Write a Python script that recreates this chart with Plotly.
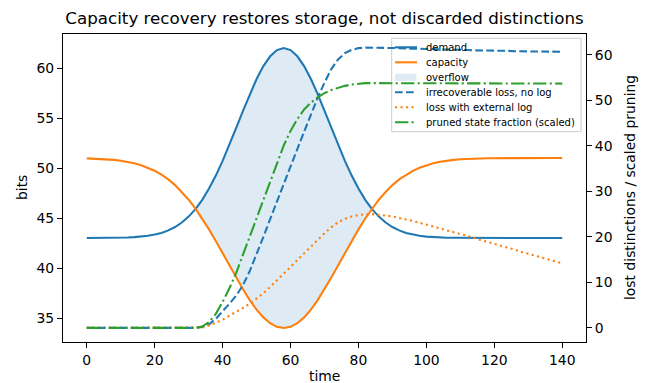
import plotly.graph_objects as go

# ---- data ----
time = list(range(0, 141, 2))

demand = [43.00, 43.00, 43.01, 43.01, 43.02, 43.03, 43.05, 43.09, 43.14, 43.22,
          43.34, 43.51, 43.76, 44.10, 44.55, 45.14, 45.89, 46.82, 47.94, 49.24,
          50.71, 52.31, 54.01, 55.72, 57.38, 58.90, 60.19, 61.17, 61.79, 62.00,
          61.79, 61.17, 60.19, 58.90, 57.38, 55.72, 54.01, 52.31, 50.71, 49.24,
          47.94, 46.82, 45.89, 45.14, 44.55, 44.10, 43.76, 43.51, 43.34, 43.22,
          43.14, 43.09, 43.05, 43.03, 43.02, 43.01, 43.01, 43.00, 43.00, 43.00,
          43.00, 43.00, 43.00, 43.00, 43.00, 43.00, 43.00, 43.00, 43.00, 43.00,
          43.00]

capacity = [50.96, 50.94, 50.91, 50.87, 50.81, 50.73, 50.62, 50.47, 50.28, 50.03,
            49.72, 49.33, 48.86, 48.29, 47.61, 46.83, 45.94, 44.95, 43.86, 42.70,
            41.49, 40.26, 39.04, 37.87, 36.79, 35.84, 35.06, 34.48, 34.12, 34.00,
            34.12, 34.48, 35.06, 35.84, 36.79, 37.87, 39.04, 40.26, 41.49, 42.70,
            43.86, 44.95, 45.94, 46.83, 47.61, 48.29, 48.86, 49.33, 49.72, 50.03,
            50.28, 50.47, 50.62, 50.73, 50.81, 50.87, 50.91, 50.94, 50.96, 50.97,
            50.98, 50.99, 50.99, 50.99, 51.00, 51.00, 51.00, 51.00, 51.00, 51.00,
            51.00]

loss_no_log = [0, 0, 0, 0, 0, 0, 0, 0, 0, 0,
               0, 0, 0, 0, 0, 0, 0, 0.2, 0.8, 2.0,
               3.6, 5.3, 7.1, 9.4, 12.5, 16.1, 20.0, 23.9, 27.8, 31.8,
               35.8, 39.3, 43.1, 46.9, 50.6, 53.9, 56.9, 59.0, 60.4, 61.1,
               61.5, 61.6, 61.6, 61.6, 61.5, 61.5, 61.5, 61.4, 61.4, 61.3,
               61.3, 61.3, 61.2, 61.2, 61.1, 61.1, 61.1, 61.0, 61.0, 61.0,
               60.9, 60.9, 60.9, 60.8, 60.8, 60.8, 60.8, 60.7, 60.7, 60.7,
               60.7]

loss_ext_log = [0, 0, 0, 0, 0, 0, 0, 0, 0, 0,
                0, 0, 0, 0, 0, 0, 0, 0.1, 0.5, 1.1,
                1.8, 2.7, 3.5, 4.4, 5.3, 6.4, 7.6, 9.0, 10.4, 11.9,
                13.4, 14.9, 16.4, 17.9, 19.4, 20.8, 22.1, 23.2, 24.0, 24.5,
                24.8, 25.0, 25.0, 24.9, 24.7, 24.5, 24.2, 23.9, 23.5, 23.1,
                22.7, 22.3, 21.9, 21.5, 21.1, 20.6, 20.2, 19.8, 19.3, 18.9,
                18.5, 18.0, 17.6, 17.2, 16.7, 16.3, 15.9, 15.4, 15.0, 14.6,
                14.2]

pruned = [0, 0, 0, 0, 0, 0, 0, 0, 0, 0,
          0, 0, 0, 0, 0, 0, 0, 0.3, 1.3, 3.1,
          5.7, 8.7, 12.1, 16.1, 20.1, 24.2, 28.4, 32.3, 36.3, 40.1,
          43.3, 45.9, 48.0, 49.5, 50.7, 51.6, 52.3, 52.8, 53.2, 53.5,
          53.7, 53.8, 53.8, 53.8, 53.8, 53.8, 53.8, 53.8, 53.8, 53.8,
          53.8, 53.8, 53.8, 53.8, 53.8, 53.7, 53.7, 53.7, 53.7, 53.7,
          53.7, 53.7, 53.7, 53.7, 53.7, 53.7, 53.7, 53.7, 53.7, 53.7,
          53.7]

x_ticks = [0, 20, 40, 60, 80, 100, 120, 140]
left_ticks = [35, 40, 45, 50, 55, 60]
right_ticks = [0, 10, 20, 30, 40, 50, 60]

series_labels = ["demand", "capacity", "overflow", "irrecoverable loss, no log",
                 "loss with external log", "pruned state fraction (scaled)"]

# ---- style ----
C0, C1, C2 = "#1f77b4", "#ff7f0e", "#2ca02c"
FILL = "rgba(31,119,180,0.15)"
FONT = "DejaVu Sans"
LW = 2.08
DASH = "7.7px,3.3px"
DOT = "2.1px,3.4px"
DASHDOT = "13.3px,3.3px,2.1px,3.3px"

W, H = 648, 383
ML, MR, MT, MB = 63, 62, 34, 41
PW, PH = W - ML - MR, H - MT - MB


def px_x(p):
    return (p - ML) / PW


def px_y(p):
    return (MT + PH - p) / PH


upper = [max(d, c) for d, c in zip(demand, capacity)]

fig = go.Figure()

# overflow fill (drawn first so it lies beneath the lines)
fig.add_trace(go.Scatter(x=time, y=capacity, mode="lines", line=dict(width=0, color=C1),
                         showlegend=False, hoverinfo="skip"))
fig.add_trace(go.Scatter(x=time, y=upper, mode="none", fill="tonexty",
                         fillcolor=FILL, name=series_labels[2], showlegend=False))

fig.add_trace(go.Scatter(x=time, y=demand, mode="lines", line=dict(color=C0, width=LW),
                         name=series_labels[0], showlegend=False))
fig.add_trace(go.Scatter(x=time, y=capacity, mode="lines", line=dict(color=C1, width=LW),
                         name=series_labels[1], showlegend=False))

fig.add_trace(go.Scatter(x=time, y=loss_no_log, mode="lines", yaxis="y2",
                         line=dict(color=C0, width=LW, dash=DASH),
                         name=series_labels[3], showlegend=False))
fig.add_trace(go.Scatter(x=time, y=loss_ext_log, mode="lines", yaxis="y2",
                         line=dict(color=C1, width=LW, dash=DOT),
                         name=series_labels[4], showlegend=False))
fig.add_trace(go.Scatter(x=time, y=pruned, mode="lines", yaxis="y2",
                         line=dict(color=C2, width=LW, dash=DASHDOT),
                         name=series_labels[5], showlegend=False))

# ---- legend (drawn beneath the right-axis lines, as in the reference) ----
shapes = [dict(type="rect", xref="paper", yref="paper", layer="below",
               x0=px_x(391.7), x1=px_x(581), y0=px_y(131.7), y1=px_y(38.3),
               fillcolor="rgba(255,255,255,0.8)", line=dict(color="#cccccc", width=1))]
legend_styles = [("line", C0, "solid"), ("line", C1, "solid"), ("patch", FILL, None),
                 ("line", C0, DASH), ("line", C1, DOT), ("line", C2, DASHDOT)]
annotations = []
row0, row_gap = 47.3, 15.0
for i, (label, (kind, col, dash)) in enumerate(zip(series_labels, legend_styles)):
    yc = row0 + i * row_gap
    if kind == "line":
        shapes.append(dict(type="line", xref="paper", yref="paper", layer="below",
                           x0=px_x(395), x1=px_x(417), y0=px_y(yc), y1=px_y(yc),
                           line=dict(color=col, width=LW, dash=dash)))
    else:
        shapes.append(dict(type="rect", xref="paper", yref="paper", layer="below",
                           x0=px_x(395), x1=px_x(416.5), y0=px_y(yc + 3.6), y1=px_y(yc - 3.6),
                           fillcolor=col, line=dict(width=0)))
    annotations.append(dict(text=label, x=px_x(424), xref="paper", y=px_y(yc), yref="paper",
                            showarrow=False, xanchor="left", yanchor="middle",
                            font=dict(family=FONT, size=10, color="black")))

annotations += [
    dict(text="time", x=0.5, xref="paper", y=px_y(376), yref="paper",
         showarrow=False, xanchor="center", yanchor="middle",
         font=dict(family=FONT, size=13.9, color="black")),
    dict(text="bits", x=px_x(22), xref="paper", y=0.5, yref="paper",
         showarrow=False, textangle=-90, xanchor="center", yanchor="middle",
         font=dict(family=FONT, size=13.9, color="black")),
    dict(text="lost distinctions / scaled pruning", x=px_x(630), xref="paper",
         y=0.5, yref="paper", showarrow=False, textangle=-90,
         xanchor="center", yanchor="middle",
         font=dict(family=FONT, size=13.9, color="black")),
]

axis_common = dict(showgrid=False, zeroline=False, showline=True, linecolor="black",
                   linewidth=1.1, ticks="outside", ticklen=5, tickwidth=1.1,
                   tickcolor="black", tickfont=dict(family=FONT, size=13.9, color="black"))

fig.update_layout(
    width=W, height=H, autosize=False,
    margin=dict(l=ML, r=MR, t=MT, b=MB, pad=0),
    paper_bgcolor="white", plot_bgcolor="white",
    font=dict(family=FONT, color="black"),
    showlegend=False,
    title=dict(text="Capacity recovery restores storage, not discarded distinctions",
               x=0.5, xref="paper", xanchor="center",
               y=1 - 18.5 / H, yref="container", yanchor="middle",
               font=dict(family=FONT, size=16.7, color="black")),
    xaxis=dict(range=[-7, 147], tickvals=x_ticks, mirror=True, **axis_common),
    yaxis=dict(range=[32.6, 63.4], tickvals=left_ticks, mirror=True, **axis_common),
    yaxis2=dict(range=[-3.1, 64.6], tickvals=right_ticks, overlaying="y", side="right",
                **axis_common),
    shapes=shapes,
    annotations=annotations,
)

fig.write_html("out.html")
